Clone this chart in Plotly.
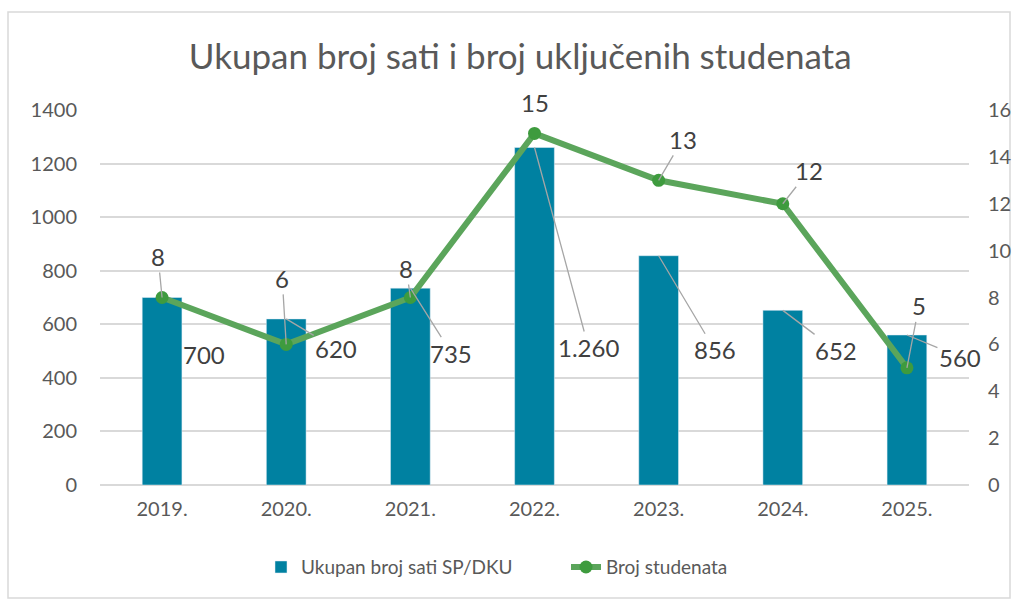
import plotly.graph_objects as go

godine = ['2019.', '2020.', '2021.', '2022.', '2023.', '2024.', '2025.']
sati = [700, 620, 735, 1260, 856, 652, 560]
studenti = [8, 6, 8, 15, 13, 12, 5]

FONT = 'Lato'
GRAY = '#595959'
LEADER = '#A6A6A6'

# label offsets in px (dx, dy) relative to the point, and whether a leader line shows
bar_offsets = [(42, 57), (50, 30), (41, 65), (54, 200), (56, 94), (53, 40), (53, 22)]
bar_leaders = [False, True, True, True, True, True, True]
line_offsets = [(-4, -41), (-4, -66), (-4, -29), (0, -31), (24, -41), (26, -33), (12, -62)]
line_leaders = [True, True, True, False, True, True, True]


def fmt(v):
    return f'{v:,}'.replace(',', '.')


fig = go.Figure()
fig.add_trace(go.Bar(
    x=godine, y=sati, name='Ukupan broj sati SP/DKU',
    marker=dict(color='#0081A1'), width=0.32,
    showlegend=True, legend='legend'
))
fig.add_trace(go.Scatter(
    x=godine, y=studenti, name='Broj studenata', yaxis='y2',
    mode='lines+markers',
    line=dict(color='#5BA55B', width=6),
    marker=dict(color='#3E9B3E', size=13),
    showlegend=True, legend='legend2'
))

# category axis: annotations are placed by category index
annotations = []
for i, (v, (dx, dy), lead) in enumerate(zip(sati, bar_offsets, bar_leaders)):
    annotations.append(dict(
        x=i, y=v, xref='x', yref='y', text=fmt(v),
        showarrow=lead, arrowhead=0, arrowwidth=1.3, arrowcolor=LEADER,
        ax=dx, ay=dy,
        xshift=0 if lead else dx, yshift=0 if lead else -dy,
        font=dict(family=FONT, size=24, color='#404040')
    ))
for i, (v, (dx, dy), lead) in enumerate(zip(studenti, line_offsets, line_leaders)):
    annotations.append(dict(
        x=i, y=v, xref='x', yref='y2', text=str(v),
        showarrow=lead, arrowhead=0, arrowwidth=1.3, arrowcolor=LEADER,
        ax=dx, ay=dy,
        xshift=0 if lead else dx, yshift=0 if lead else -dy,
        font=dict(family=FONT, size=24, color='#404040')
    ))

legend_style = dict(
    orientation='h', y=-0.219, yanchor='middle', xanchor='left',
    font=dict(family=FONT, size=19, color=GRAY), bgcolor='rgba(0,0,0,0)'
)

fig.update_layout(
    width=1016, height=601,
    margin=dict(l=100, r=47, t=110, b=116),
    paper_bgcolor='white', plot_bgcolor='white',
    font=dict(family=FONT, size=20, color=GRAY),
    showlegend=True,
    title=dict(
        text='Ukupan broj sati i broj uključenih studenata',
        x=0.512, xanchor='center', y=1 - 57 / 601, yanchor='middle',
        xref='container', yref='container',
        font=dict(family=FONT, size=35, color=GRAY)
    ),
    xaxis=dict(
        type='category', range=[-0.5, 6.5], showgrid=False, showline=False,
        ticks='', automargin=False,
        ticklabelstandoff=10, tickfont=dict(size=20, color=GRAY)
    ),
    yaxis=dict(
        range=[0, 1400], dtick=200, showgrid=True, gridcolor='#D9D9D9',
        gridwidth=1.5, zeroline=True, zerolinecolor='#D9D9D9', zerolinewidth=1.5,
        automargin=False,
        ticklabelstandoff=22, tickfont=dict(size=20, color=GRAY)
    ),
    yaxis2=dict(
        range=[0, 16], dtick=2, overlaying='y', side='right', showgrid=False,
        zeroline=False, automargin=False,
        ticklabelstandoff=18, tickfont=dict(size=20, color=GRAY)
    ),
    legend=dict(legend_style, x=(261 - 100) / 869),
    legend2=dict(legend_style, x=(566 - 100) / 869),
    annotations=annotations,
    shapes=[dict(
        type='rect', xref='paper', yref='paper',
        x0=(8 - 100) / 869, x1=(1010 - 100) / 869,
        y0=(485 - 598) / 375, y1=(485 - 12) / 375,
        line=dict(color='#D9D9D9', width=1.5), layer='below'
    )],
    bargap=0.68,
)

fig.write_html(
    'out.html',
    config={'displayModeBar': False},
    post_script="document.body.style.margin='0';"
)
